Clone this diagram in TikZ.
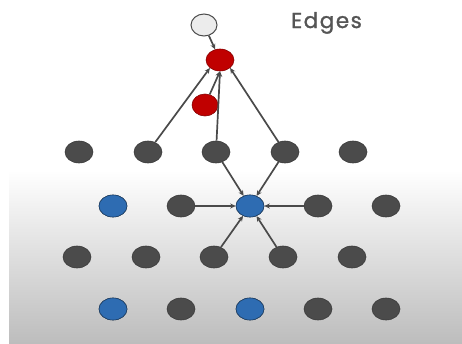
\documentclass[tikz,border=0pt]{standalone}
\usepackage{fontspec}
\newfontfamily\titlefont[LetterSpace=7, FakeBold=1.2]{Poppins}
\usetikzlibrary{arrows.meta, shapes.geometric}
\definecolor{nodegray}{HTML}{4B4B4B}
\definecolor{nodeblue}{HTML}{2E6CB2}
\definecolor{nodered}{HTML}{C00000}
\definecolor{edgegray}{HTML}{4A4A4A}
\definecolor{titlegray}{HTML}{555555}
\definecolor{bgbottom}{HTML}{BDBDBD}
\tikzset{
  vtx/.style={ellipse, minimum width=28pt, minimum height=22pt, inner sep=0pt, line width=0.6pt},
  gvtx/.style={vtx, fill=nodegray, draw=nodegray!80!black},
  bvtx/.style={vtx, fill=nodeblue, draw=nodeblue!60!black},
  rvtx/.style={vtx, fill=nodered, draw=nodered!70!black},
  lvtx/.style={vtx, minimum width=26pt, minimum height=22pt, fill=gray!15, draw=edgegray, line width=1pt},
  edge/.style={draw=edgegray, line width=1.7pt, -{Stealth[length=5.5pt,width=5pt]}}
}
\begin{document}
\begin{tikzpicture}[x=1pt, y=-1pt]
  \useasboundingbox (0,0) rectangle (462,343);
  \fill[white] (0,0) rectangle (462,343);
  \shade[top color=white, bottom color=bgbottom] (9,170) rectangle (462,343);

  % title
  \node[text=titlegray, font=\titlefont\fontsize{21.5}{24}\selectfont, anchor=base west, inner sep=0pt] (title) at (291,28) {Edges};

  % top chain
  \node[lvtx] (top) at (204,25) {};
  \node[rvtx] (hub) at (220,60) {};
  \node[rvtx, minimum width=26pt] (mid) at (205,105) {};

  % grid rows
  \foreach \x [count=\i] in {79,148,216,285,353} \node[gvtx] (a\i) at (\x,152) {};
  \foreach \x [count=\i] in {113,181,250,318,386} \node[gvtx] (b\i) at (\x,206) {};
  \foreach \x [count=\i] in {77,146,214,283,352} \node[gvtx] (c\i) at (\x,257) {};
  \foreach \x [count=\i] in {113,181,250,318,386} \node[gvtx] (d\i) at (\x,309) {};

  % blue vertices
  \node[bvtx] at (b1) {};
  \node[bvtx] (center) at (b3) {};
  \node[bvtx] at (d1) {};
  \node[bvtx] at (d3) {};

  % edges into the red hub
  \draw[edge] (top) -- (hub);
  \draw[edge] (a2) -- (hub.south west);
  \draw[edge] (mid) -- (hub.south);
  \draw[edge] (a3) -- (hub.south);
  \draw[edge] (a4) -- (hub.south east);

  % edges into the blue center
  \draw[edge] (a3) -- (center);
  \draw[edge] (a4) -- (center);
  \draw[edge] (b2) -- (center);
  \draw[edge] (b4) -- (center);
  \draw[edge] (c3) -- (center);
  \draw[edge] (c4) -- (center);
\end{tikzpicture}
\end{document}
